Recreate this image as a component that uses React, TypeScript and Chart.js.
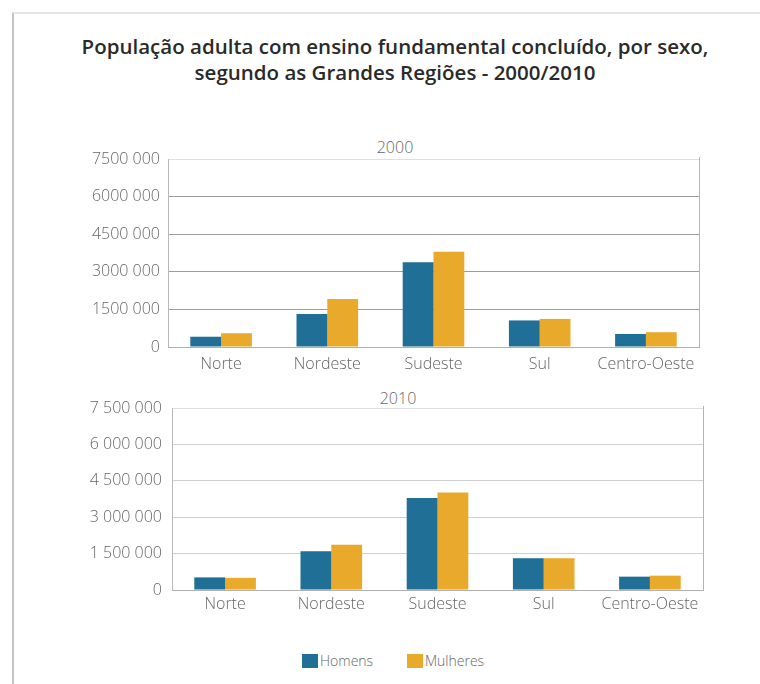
import React, { useEffect, useRef } from "react";
import { Chart, registerables } from "chart.js";
Chart.register(...registerables);

const categories = ["Norte", "Nordeste", "Sudeste", "Sul", "Centro-Oeste"];
const seriesNames = ["Homens", "Mulheres"];
const homens2000 = [410000, 1320000, 3380000, 1060000, 520000];
const mulheres2000 = [550000, 1910000, 3800000, 1120000, 590000];
const homens2010 = [520000, 1600000, 3790000, 1310000, 550000];
const mulheres2010 = [500000, 1860000, 4020000, 1310000, 590000];
const ticks2000 = ["0", "1500 000", "3000 000", "4500 000", "6000 000", "7500 000"];
const ticks2010 = ["0", "1 500 000", "3 000 000", "4 500 000", "6 000 000", "7 500 000"];
const yMax = 7500000;
const yStep = 1500000;

const BLUE = "#1f6f96";
const ORANGE = "#e9a92a";
const FONT = "'Open Sans', 'DejaVu Sans', sans-serif";

type Props = {
  homens: number[];
  mulheres: number[];
  tickLabels: string[];
  left: number;
  top: number;
  width: number;
  height: number;
  axisWidth: number;
  padTop: number;
  padRight: number;
  xAxisHeight: number;
  xLabelPad: number;
  yLabelPad: number;
  gridColor: string;
};

const rightBorder = {
  id: "rightBorder",
  afterDatasetsDraw(chart: any) {
    const { ctx, chartArea } = chart;
    ctx.save();
    ctx.strokeStyle = "#b5b5b5";
    ctx.lineWidth = 1;
    ctx.beginPath();
    ctx.moveTo(Math.round(chartArea.right) + 0.5, chartArea.top - 2);
    ctx.lineTo(Math.round(chartArea.right) + 0.5, chartArea.bottom);
    ctx.stroke();
    ctx.restore();
  },
};

function BarPanel(p: Props) {
  const ref = useRef<HTMLCanvasElement | null>(null);
  useEffect(() => {
    if (!ref.current) return;
    const chart = new Chart(ref.current, {
      type: "bar",
      data: {
        labels: categories,
        datasets: [
          { label: seriesNames[0], data: p.homens, backgroundColor: BLUE, borderWidth: 0 },
          { label: seriesNames[1], data: p.mulheres, backgroundColor: ORANGE, borderWidth: 0 },
        ],
      },
      options: {
        responsive: false,
        animation: false,
        devicePixelRatio: 1,
        layout: { padding: { top: p.padTop, right: p.padRight, left: 0, bottom: 0 } },
        datasets: { bar: { categoryPercentage: 0.58, barPercentage: 1.0 } },
        plugins: { legend: { display: false }, title: { display: false }, tooltip: { enabled: false } },
        scales: {
          x: {
            grid: { display: false, drawTicks: false },
            border: { display: true, color: "#b0b0b0" },
            ticks: {
              padding: p.xLabelPad,
              color: "#666",
              font: { family: FONT, size: 16, weight: 300 as any },
              maxRotation: 0,
              autoSkip: false,
            },
            afterFit: (s: any) => {
              s.height = p.xAxisHeight;
            },
          },
          y: {
            min: 0,
            max: yMax,
            grid: {
              drawTicks: false,
              color: (c: any) =>
                c.tick && c.tick.value === yMax ? "#dedede" : c.tick && c.tick.value === 0 ? "#b0b0b0" : p.gridColor,
              lineWidth: 1,
            },
            border: { display: true, color: "#b8b8b8" },
            ticks: {
              stepSize: yStep,
              padding: p.yLabelPad,
              color: "#666",
              font: { family: FONT, size: 16, weight: 300 as any },
              callback: (_v: any, i: number) => p.tickLabels[i],
            },
            afterFit: (s: any) => {
              s.width = p.axisWidth;
            },
          },
        },
      },
      plugins: [rightBorder],
    });
    return () => chart.destroy();
  }, []);
  return (
    <canvas
      ref={ref}
      width={p.width}
      height={p.height}
      style={{ position: "absolute", left: p.left, top: p.top, width: p.width, height: p.height }}
    />
  );
}

export default function App() {
  const text = (s: string, style: React.CSSProperties) => (
    <div style={{ position: "absolute", fontFamily: FONT, whiteSpace: "nowrap", ...style }}>{s}</div>
  );
  return (
    <div
      style={{
        position: "absolute",
        left: 0,
        top: 0,
        width: 760,
        height: 684,
        background: "#fff",
        overflow: "hidden",
      }}
    >
      <div
        style={{
          position: "absolute",
          left: 12,
          top: 12,
          width: 760,
          height: 700,
          borderTop: "2px solid #e6e6e6",
          borderLeft: "2px solid #c4c4c4",
        }}
      />
      <div
        style={{
          position: "absolute",
          left: 0,
          top: 33,
          width: 790,
          textAlign: "center",
          fontFamily: FONT,
          fontWeight: 600,
          fontSize: 20.5,
          lineHeight: "26px",
          color: "#2a2a2a",
        }}
      >
        <div>População adulta com ensino fundamental concluído, por sexo,</div>
        <div>segundo as Grandes Regiões - 2000/2010</div>
      </div>
      {text("2000", { left: 355, top: 136, width: 80, textAlign: "center", fontSize: 16, lineHeight: "22px", color: "#666", fontWeight: 300 })}
      {text("2010", { left: 358, top: 387, width: 80, textAlign: "center", fontSize: 16, lineHeight: "22px", color: "#666", fontWeight: 300 })}
      <BarPanel
        homens={homens2000}
        mulheres={mulheres2000}
        tickLabels={ticks2000}
        left={60}
        top={130}
        width={660}
        height={250}
        axisWidth={108}
        padTop={29}
        padRight={21}
        xAxisHeight={33}
        xLabelPad={8}
        yLabelPad={8}
        gridColor="#9c9c9c"
      />
      <BarPanel
        homens={homens2010}
        mulheres={mulheres2010}
        tickLabels={ticks2010}
        left={60}
        top={380}
        width={660}
        height={240}
        axisWidth={112}
        padTop={28}
        padRight={17}
        xAxisHeight={30}
        xLabelPad={5}
        yLabelPad={10}
        gridColor="#cfcfcf"
      />
      <div style={{ position: "absolute", left: 302, top: 654, width: 16, height: 14, background: BLUE }} />
      {text(seriesNames[0], { left: 320, top: 651, fontSize: 14, lineHeight: "20px", color: "#666", fontWeight: 300 })}
      <div style={{ position: "absolute", left: 407, top: 654, width: 16, height: 14, background: ORANGE }} />
      {text(seriesNames[1], { left: 425, top: 651, fontSize: 14, lineHeight: "20px", color: "#666", fontWeight: 300 })}
    </div>
  );
}
